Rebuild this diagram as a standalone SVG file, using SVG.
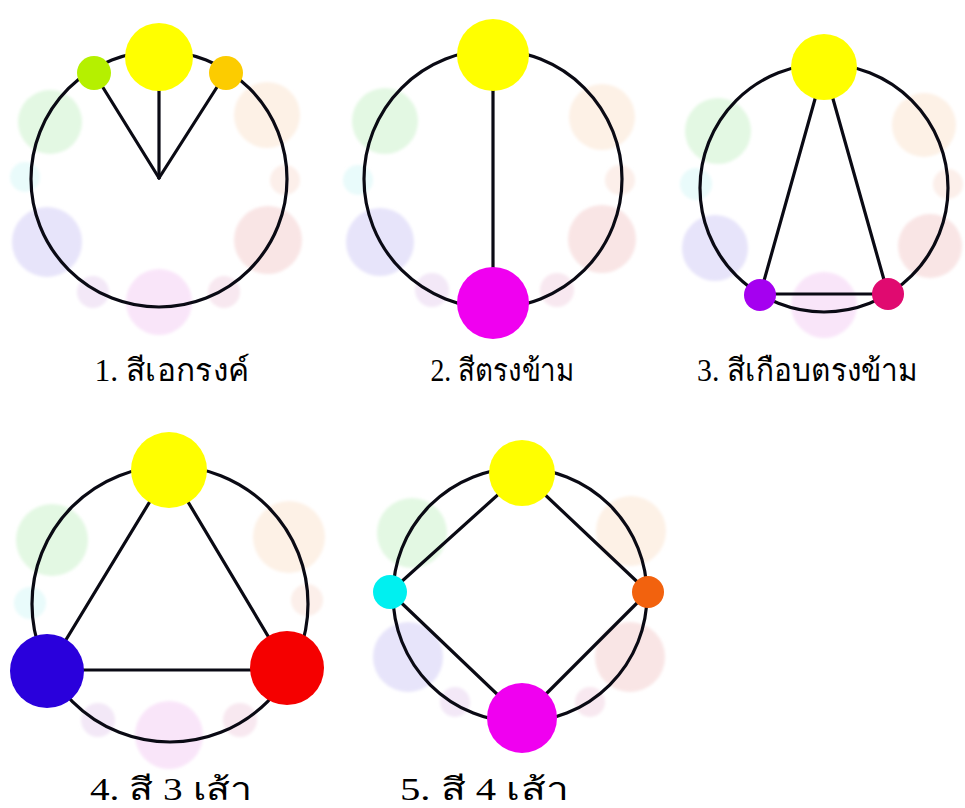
<svg xmlns="http://www.w3.org/2000/svg" width="965" height="808" viewBox="0 0 965 808">
<defs>
<filter id="soft" x="-20%" y="-20%" width="140%" height="140%"><feGaussianBlur stdDeviation="1.5"/></filter>
</defs>
<style>
.ring{fill:none;stroke:#0a0a14;stroke-width:3.2}
.ln{stroke:#0a0a14;stroke-width:3.2;stroke-linecap:round;fill:none}
.lbl{font-family:"Liberation Serif","Noto Sans","DejaVu Serif",serif;font-size:31px;fill:#000;text-anchor:middle}
.pale{filter:url(#soft)}
.pg{fill:#e3f8e3}.pc{fill:#e9fbfb}.pb{fill:#e7e4fa}.pm{fill:#f9e5f9}.pv{fill:#f3e8f7}
.prv{fill:#f8e8f0}.pr{fill:#f9e5e5}.pro{fill:#fcefea}.po{fill:#fdf1e6}
.y{fill:#ffff00}.yg{fill:#b5f000}.gd{fill:#fccc00}.m{fill:#f000f0}.v{fill:#a500f0}
.rv{fill:#e00a70}.b{fill:#2a00dc}.r{fill:#f50000}.c{fill:#00f0f0}.o{fill:#f2620e}
</style>
<rect width="965" height="808" fill="#fff"/>

<!-- Panel 1 -->
<g id="panel1">
<g id="p1-pale" class="pale">
<circle class="po" cx="267" cy="115" r="33"/>
<circle class="pro" cx="285" cy="180" r="15"/>
<circle class="pr" cx="268" cy="240" r="34"/>
<circle class="prv" cx="224" cy="292" r="16"/>
<circle class="pm" cx="159" cy="302" r="33"/>
<circle class="pv" cx="93" cy="292" r="16"/>
<circle class="pb" cx="47" cy="242" r="35"/>
<circle class="pc" cx="25" cy="177" r="15"/>
<circle class="pg" cx="50" cy="122" r="32"/>
</g>
<circle id="p1-ring" class="ring" cx="159" cy="179" r="128"/>
<g id="p1-connectors">
<line class="ln" x1="159" y1="178" x2="94" y2="73"/>
<line class="ln" x1="159" y1="178" x2="159" y2="57"/>
<line class="ln" x1="159" y1="178" x2="226" y2="73"/>
</g>
<g id="p1-yellow"><circle class="y" cx="159" cy="57" r="34"/></g>
<g id="p1-yellowgreen"><circle class="yg" cx="94" cy="73" r="17"/></g>
<g id="p1-gold"><circle class="gd" cx="226" cy="73" r="17"/></g>
<text class="lbl" x="172" y="381" textLength="155" lengthAdjust="spacingAndGlyphs">1. สีเอกรงค์</text>
</g>

<!-- Panel 2 -->
<g id="panel2">
<g id="p2-pale" class="pale">
<circle class="pg" cx="385" cy="121" r="33"/>
<circle class="pc" cx="358" cy="180" r="15"/>
<circle class="pb" cx="380" cy="242" r="34"/>
<circle class="pv" cx="432" cy="290" r="17"/>
<circle class="po" cx="602" cy="117" r="33"/>
<circle class="pro" cx="620" cy="180" r="15"/>
<circle class="pr" cx="602" cy="239" r="34"/>
<circle class="prv" cx="557" cy="290" r="17"/>
</g>
<circle id="p2-ring" class="ring" cx="493" cy="179" r="129"/>
<g id="p2-connectors">
<line class="ln" x1="493" y1="55" x2="493" y2="303"/>
</g>
<g id="p2-yellow"><circle class="y" cx="493" cy="55" r="36"/></g>
<g id="p2-magenta"><circle class="m" cx="493" cy="303" r="36"/></g>
<text class="lbl" x="502" y="381" textLength="143" lengthAdjust="spacingAndGlyphs">2. สีตรงข้าม</text>
</g>

<!-- Panel 3 -->
<g id="panel3">
<g id="p3-pale" class="pale">
<circle class="pg" cx="718" cy="131" r="33"/>
<circle class="pc" cx="696" cy="184" r="16"/>
<circle class="pb" cx="715" cy="248" r="33"/>
<circle class="pm" cx="824" cy="305" r="33"/>
<circle class="po" cx="924" cy="125" r="32"/>
<circle class="pro" cx="948" cy="184" r="15"/>
<circle class="pr" cx="930" cy="246" r="32"/>
</g>
<circle id="p3-ring" class="ring" cx="824" cy="188" r="124"/>
<g id="p3-connectors">
<line class="ln" x1="824" y1="67" x2="760" y2="295"/>
<line class="ln" x1="824" y1="67" x2="888" y2="294"/>
<line class="ln" x1="760" y1="294" x2="888" y2="294"/>
</g>
<g id="p3-yellow"><circle class="y" cx="824" cy="67" r="33"/></g>
<g id="p3-violet"><circle class="v" cx="760" cy="295" r="16"/></g>
<g id="p3-redviolet"><circle class="rv" cx="888" cy="294" r="16"/></g>
<text class="lbl" x="807" y="381" textLength="220" lengthAdjust="spacingAndGlyphs">3. สีเกือบตรงข้าม</text>
</g>

<!-- Panel 4 -->
<g id="panel4">
<g id="p4-pale" class="pale">
<circle class="pg" cx="52" cy="540" r="36"/>
<circle class="pc" cx="30" cy="603" r="16"/>
<circle class="po" cx="289" cy="537" r="36"/>
<circle class="pro" cx="307" cy="600" r="16"/>
<circle class="pm" cx="169" cy="735" r="34"/>
<circle class="pv" cx="98" cy="720" r="17"/>
<circle class="prv" cx="240" cy="720" r="17"/>
</g>
<circle id="p4-ring" class="ring" cx="170" cy="604" r="138"/>
<g id="p4-connectors">
<line class="ln" x1="169" y1="470" x2="47" y2="671"/>
<line class="ln" x1="169" y1="470" x2="287" y2="668"/>
<line class="ln" x1="47" y1="670" x2="287" y2="670"/>
</g>
<g id="p4-yellow"><circle class="y" cx="169" cy="470" r="38"/></g>
<g id="p4-blue"><circle class="b" cx="47" cy="671" r="37"/></g>
<g id="p4-red"><circle class="r" cx="287" cy="668" r="37"/></g>
<text class="lbl" x="171" y="800" textLength="162" lengthAdjust="spacingAndGlyphs">4. สี 3 เส้า</text>
</g>

<!-- Panel 5 -->
<g id="panel5">
<g id="p5-pale" class="pale">
<circle class="pg" cx="412" cy="533" r="35"/>
<circle class="pb" cx="408" cy="657" r="35"/>
<circle class="po" cx="631" cy="531" r="35"/>
<circle class="pr" cx="630" cy="657" r="35"/>
<circle class="pv" cx="455" cy="702" r="15"/>
<circle class="prv" cx="590" cy="702" r="15"/>
</g>
<circle id="p5-ring" class="ring" cx="520" cy="595" r="127"/>
<g id="p5-connectors">
<line class="ln" x1="522" y1="473" x2="390" y2="592"/>
<line class="ln" x1="390" y1="592" x2="522" y2="718"/>
<line class="ln" x1="522" y1="718" x2="648" y2="592"/>
<line class="ln" x1="648" y1="592" x2="522" y2="473"/>
</g>
<g id="p5-yellow"><circle class="y" cx="522" cy="473" r="33"/></g>
<g id="p5-magenta"><circle class="m" cx="522" cy="718" r="35"/></g>
<g id="p5-cyan"><circle class="c" cx="390" cy="592" r="17"/></g>
<g id="p5-orange"><circle class="o" cx="648" cy="592" r="16"/></g>
<text class="lbl" x="484" y="800" textLength="168" lengthAdjust="spacingAndGlyphs">5. สี 4 เส้า</text>
</g>
</svg>
